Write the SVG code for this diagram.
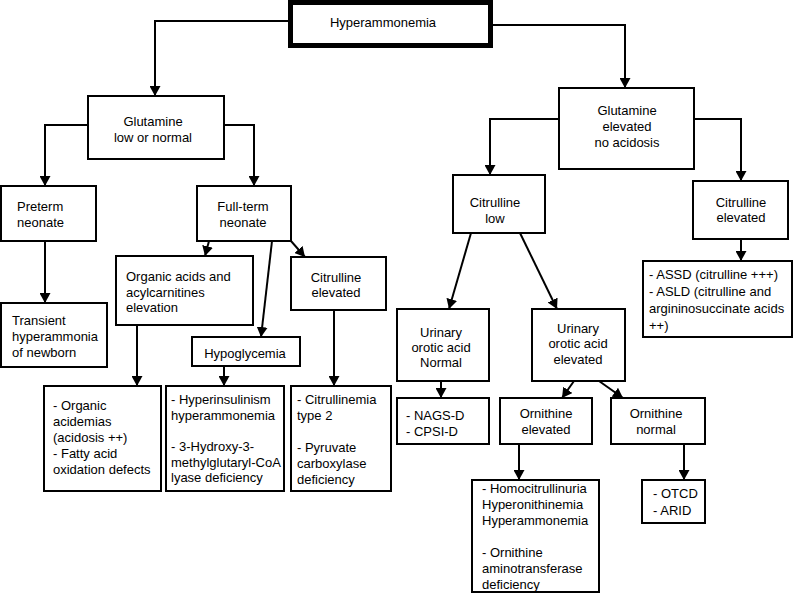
<svg xmlns="http://www.w3.org/2000/svg" width="793" height="595" viewBox="0 0 793 595">
<style>
.b{fill:#fff;stroke:#000;stroke-width:2}
.t{font-family:"Liberation Sans",Arial,sans-serif;font-size:13px;fill:#000}
.c{text-anchor:middle}
.e line,.e polyline{fill:none;stroke:#000;stroke-width:2;marker-end:url(#a)}
</style>
<defs>
<marker id="a" markerUnits="userSpaceOnUse" markerWidth="11" markerHeight="11" refX="10" refY="5.5" orient="auto">
<path d="M0,0 L10,5.5 L0,11 z" fill="#000"/>
</marker>
</defs>
<rect width="793" height="595" fill="#fff"/>
<g class="e" id="connectors">
<polyline points="290,21 155,21 155,96"/>
<polyline points="490,25 625,25 625,88"/>
<polyline points="88,125 45,125 45,186"/>
<polyline points="224,125 254,125 254,186"/>
<line x1="45" y1="241" x2="45" y2="303"/>
<line x1="209" y1="241" x2="205" y2="256"/>
<line x1="272" y1="241" x2="261" y2="337"/>
<line x1="291" y1="241" x2="305" y2="257"/>
<line x1="137" y1="325" x2="137" y2="386"/>
<line x1="224" y1="366" x2="224" y2="386"/>
<line x1="334" y1="310" x2="334" y2="386"/>
<polyline points="559,119 490,119 490,175"/>
<polyline points="694,119 741,119 741,181"/>
<line x1="471" y1="233" x2="449" y2="309"/>
<line x1="520" y1="233" x2="557" y2="309"/>
<line x1="741" y1="239" x2="741" y2="261"/>
<line x1="441" y1="381" x2="441" y2="398"/>
<line x1="574" y1="381" x2="562" y2="398"/>
<line x1="599" y1="381" x2="623" y2="398"/>
<line x1="519" y1="444" x2="519" y2="480"/>
<line x1="684" y1="444" x2="684" y2="480"/>
</g>
<g id="hyperammonemia">
<rect x="290.5" y="2.5" width="200" height="43" fill="#fff" stroke="#000" stroke-width="5"/>
<text class="t c" x="383" y="27">Hyperammonemia</text>
</g>
<g id="glutamine-low">
<rect class="b" x="88" y="96" width="136" height="63"/>
<text class="t c" x="153" y="126">Glutamine</text>
<text class="t c" x="153" y="142">low or normal</text>
</g>
<g id="glutamine-elevated">
<rect class="b" x="559" y="88" width="135" height="81"/>
<text class="t c" x="627" y="115">Glutamine</text>
<text class="t c" x="627" y="131">elevated</text>
<text class="t c" x="627" y="147">no acidosis</text>
</g>
<g id="preterm">
<rect class="b" x="1" y="186" width="95" height="55"/>
<text class="t" x="17" y="211">Preterm</text>
<text class="t" x="17" y="227">neonate</text>
</g>
<g id="fullterm">
<rect class="b" x="197" y="186" width="94" height="55"/>
<text class="t c" x="243" y="211">Full-term</text>
<text class="t c" x="243" y="227">neonate</text>
</g>
<g id="transient">
<rect class="b" x="1" y="303" width="106" height="64"/>
<text class="t" x="12" y="325">Transient</text>
<text class="t" x="12" y="341">hyperammonia</text>
<text class="t" x="12" y="357">of newborn</text>
</g>
<g id="organic-acids">
<rect class="b" x="116" y="256" width="137" height="69"/>
<text class="t" x="126" y="281">Organic acids and</text>
<text class="t" x="126" y="297">acylcarnitines</text>
<text class="t" x="126" y="312">elevation</text>
</g>
<g id="hypoglycemia">
<rect class="b" x="192" y="337" width="108" height="29"/>
<text class="t c" x="245" y="358">Hypoglycemia</text>
</g>
<g id="citrulline-elevated-left">
<rect class="b" x="291" y="257" width="95" height="53"/>
<text class="t c" x="336" y="282">Citrulline</text>
<text class="t c" x="336" y="297">elevated</text>
</g>
<g id="organic-acidemias">
<rect class="b" x="44" y="386" width="117" height="105"/>
<text class="t" x="53" y="410">- Organic</text>
<text class="t" x="53" y="426">acidemias</text>
<text class="t" x="53" y="442">(acidosis ++)</text>
<text class="t" x="53" y="458">- Fatty acid</text>
<text class="t" x="53" y="474">oxidation defects</text>
</g>
<g id="hyperinsulinism">
<rect class="b" x="166" y="386" width="118" height="105"/>
<text class="t" x="171" y="404">- Hyperinsulinism</text>
<text class="t" x="171" y="420">hyperammonemia</text>
<text class="t" x="171" y="451">- 3-Hydroxy-3-</text>
<text class="t" x="171" y="467">methylglutaryl-CoA</text>
<text class="t" x="171" y="482">lyase deficiency</text>
</g>
<g id="citrullinemia">
<rect class="b" x="291" y="386" width="100" height="105"/>
<text class="t" x="297" y="404">- Citrullinemia</text>
<text class="t" x="297" y="420">type 2</text>
<text class="t" x="297" y="452">- Pyruvate</text>
<text class="t" x="297" y="468">carboxylase</text>
<text class="t" x="297" y="484">deficiency</text>
</g>
<g id="citrulline-low">
<rect class="b" x="453" y="175" width="92" height="58"/>
<text class="t c" x="495" y="207">Citrulline</text>
<text class="t c" x="495" y="223">low</text>
</g>
<g id="citrulline-elevated-right">
<rect class="b" x="693" y="181" width="95" height="58"/>
<text class="t c" x="741" y="207">Citrulline</text>
<text class="t c" x="741" y="222">elevated</text>
</g>
<g id="assd-asld">
<rect class="b" x="643" y="261" width="149" height="76"/>
<text class="t" x="649" y="279">- ASSD (citrulline +++)</text>
<text class="t" x="649" y="296">- ASLD (citrulline and</text>
<text class="t" x="649" y="313">argininosuccinate acids</text>
<text class="t" x="649" y="330">++)</text>
</g>
<g id="urinary-normal">
<rect class="b" x="397" y="309" width="92" height="72"/>
<text class="t c" x="441" y="337">Urinary</text>
<text class="t c" x="441" y="352">orotic acid</text>
<text class="t c" x="441" y="367">Normal</text>
</g>
<g id="urinary-elevated">
<rect class="b" x="532" y="309" width="93" height="72"/>
<text class="t c" x="578" y="333">Urinary</text>
<text class="t c" x="578" y="348">orotic acid</text>
<text class="t c" x="578" y="364">elevated</text>
</g>
<g id="nags-cpsi">
<rect class="b" x="397" y="398" width="92" height="46"/>
<text class="t" x="406" y="420">- NAGS-D</text>
<text class="t" x="406" y="436">- CPSI-D</text>
</g>
<g id="ornithine-elevated">
<rect class="b" x="500" y="398" width="92" height="46"/>
<text class="t c" x="546" y="418">Ornithine</text>
<text class="t c" x="546" y="434">elevated</text>
</g>
<g id="ornithine-normal">
<rect class="b" x="611" y="398" width="94" height="46"/>
<text class="t c" x="656" y="418">Ornithine</text>
<text class="t c" x="656" y="434">normal</text>
</g>
<g id="homocitrullinuria">
<rect class="b" x="472" y="480" width="127" height="112"/>
<text class="t" x="482" y="493">- Homocitrullinuria</text>
<text class="t" x="482" y="509">Hyperonithinemia</text>
<text class="t" x="482" y="525">Hyperammonemia</text>
<text class="t" x="482" y="557">- Ornithine</text>
<text class="t" x="482" y="573">aminotransferase</text>
<text class="t" x="482" y="589">deficiency</text>
</g>
<g id="otcd-arid">
<rect class="b" x="642" y="480" width="63" height="43"/>
<text class="t" x="653" y="498">- OTCD</text>
<text class="t" x="653" y="515">- ARID</text>
</g>
</svg>
